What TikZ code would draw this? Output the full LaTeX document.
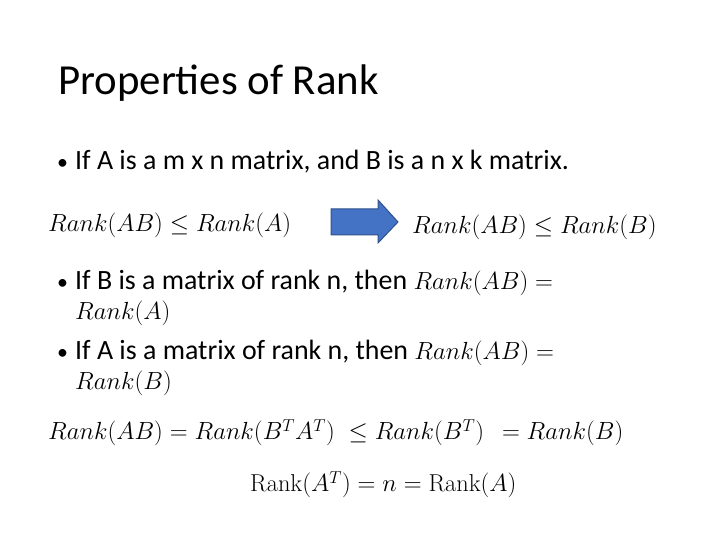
\documentclass[tikz,border=0pt]{standalone}
\usepackage{amsmath}
\usepackage{fontspec}
\setmainfont{Carlito}
\newfontfamily\lmr{Latin Modern Roman}
\tikzset{txt/.style={anchor=base west,inner sep=0pt,font=\fontsize{28}{32}\selectfont},
 mth/.style={anchor=base west,inner sep=0pt,font=\fontsize{27}{30}\selectfont},
 bul/.style={anchor=base west,inner sep=0pt,font=\fontsize{22}{25}\selectfont}}
\newcommand{\Rk}{\mathnormal{Rank}}
\begin{document}
\begin{tikzpicture}[x=1bp,y=1bp]
\useasboundingbox (0,0) rectangle (720,540);
\node[anchor=base west,inner sep=0pt,font=\fontsize{43}{48}\selectfont] (title) at (58,445) {Properties of Rank};
\node[bul] (b1) at (57,370) {•};
\node[txt] (t1) at (75,370) {If A is a m x n matrix, and B is a n x k matrix.};
\node[mth] (m1) at (48,308) {$\Rk(AB)\le \Rk(A)$};
\node[mth] (m2) at (412,306) {$\Rk(AB)\le \Rk(B)$};
\draw[draw={rgb,255:red,47;green,82;blue,143},fill={rgb,255:red,68;green,114;blue,196},line width=1bp]
 (331,331) -- (378,331) -- (378,340) -- (398,318) -- (378,297) -- (378,305) -- (331,305) -- cycle;
\node[bul] (b2) at (57,250) {•};
\node[txt] (t2) at (75,250) {If B is a matrix of rank n, then \fontsize{26}{30}\selectfont$\Rk(AB)=$};
\node[txt,font=\fontsize{26}{30}\selectfont] (t2b) at (75,220) {$\Rk(A)$};
\node[bul] (b3) at (57,180) {•};
\node[txt] (t3) at (75,180) {If A is a matrix of rank n, then \fontsize{26}{30}\selectfont$\Rk(AB)=$};
\node[txt,font=\fontsize{26}{30}\selectfont] (t3b) at (75,150) {$\Rk(B)$};
\node[mth] (m3) at (48,100) {$\Rk(AB)=\Rk(B^TA^T)\;\le \Rk(B^T)\;\,=\Rk(B)$};
\node[anchor=base west,inner sep=0pt,font=\fontsize{24.5}{28}\selectfont] (m4) at (250,48) {$\text{\lmr Rank}(A^T)=n=\text{\lmr Rank}(A)$};
\end{tikzpicture}
\end{document}
